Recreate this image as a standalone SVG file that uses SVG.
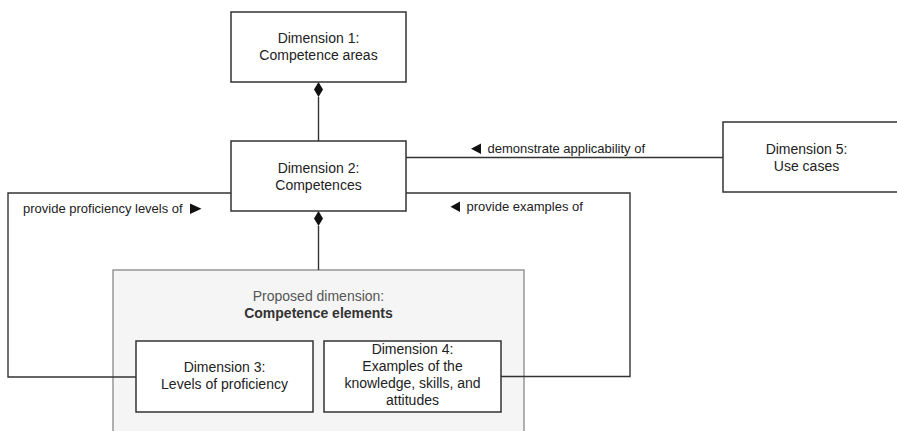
<svg xmlns="http://www.w3.org/2000/svg" width="897" height="431" viewBox="0 0 897 431">
<style>
text{font-family:"Liberation Sans",Arial,sans-serif;fill:#222}
.n{font-size:14px;text-anchor:middle}
.l{font-size:13px}
.box{fill:#fff;stroke:#333;stroke-width:1.5}
.c{fill:none;stroke:#333;stroke-width:1.4}
.dia{fill:#111;stroke:none}
.tri{fill:#111}
</style>
<rect width="897" height="431" fill="#fff"/>
<g id="container">
<rect x="113" y="270" width="411" height="170" fill="#f5f5f5" stroke="#888" stroke-width="1.3"/>
<text class="n" x="318.5" y="301" style="fill:#555">Proposed dimension:</text>
<text class="n" x="318.5" y="318" font-weight="bold" style="fill:#333">Competence elements</text>
</g>
<g id="connectors">
<line class="c" x1="318.5" y1="97" x2="318.5" y2="141"/>
<path class="dia" d="M318.5,82 L323,89.5 L318.5,97 L314,89.5 Z"/>
<line class="c" x1="318.5" y1="226" x2="318.5" y2="270"/>
<path class="dia" d="M318.5,211 L323,218.5 L318.5,226 L314,218.5 Z"/>
<line class="c" x1="406" y1="157.5" x2="723" y2="157.5"/>
<path class="c" d="M231,193 H8 V377 H136"/>
<path class="c" d="M406,193 H630 V376.5 H501"/>
<path class="tri" d="M481,143.5 V154 L471,148.75 Z"/>
<text class="l" x="487.5" y="152.5">demonstrate applicability of</text>
<text class="l" x="23" y="213">provide proficiency levels of</text>
<path class="tri" d="M190,203.5 V214 L201.5,208.75 Z"/>
<path class="tri" d="M460,201.5 V212 L450.5,206.75 Z"/>
<text class="l" x="466.5" y="211">provide examples of</text>
</g>
<g id="dim1">
<rect class="box" x="231" y="12" width="175" height="70"/>
<text class="n" x="318.5" y="43">Dimension 1:</text>
<text class="n" x="318.5" y="60">Competence areas</text>
</g>
<g id="dim2">
<rect class="box" x="231" y="141" width="175" height="70"/>
<text class="n" x="318.5" y="173">Dimension 2:</text>
<text class="n" x="318.5" y="190">Competences</text>
</g>
<g id="dim5">
<rect class="box" x="723" y="122" width="190" height="70"/>
<text class="n" x="806.5" y="154">Dimension 5:</text>
<text class="n" x="806.5" y="171">Use cases</text>
</g>
<g id="dim3">
<rect class="box" x="136" y="341" width="177" height="71"/>
<text class="n" x="224.5" y="372">Dimension 3:</text>
<text class="n" x="224.5" y="389">Levels of proficiency</text>
</g>
<g id="dim4">
<rect class="box" x="324" y="341" width="177" height="71"/>
<text class="n" x="412.5" y="354">Dimension 4:</text>
<text class="n" x="412.5" y="371">Examples of the</text>
<text class="n" x="412.5" y="388">knowledge, skills, and</text>
<text class="n" x="412.5" y="405">attitudes</text>
</g>
</svg>
